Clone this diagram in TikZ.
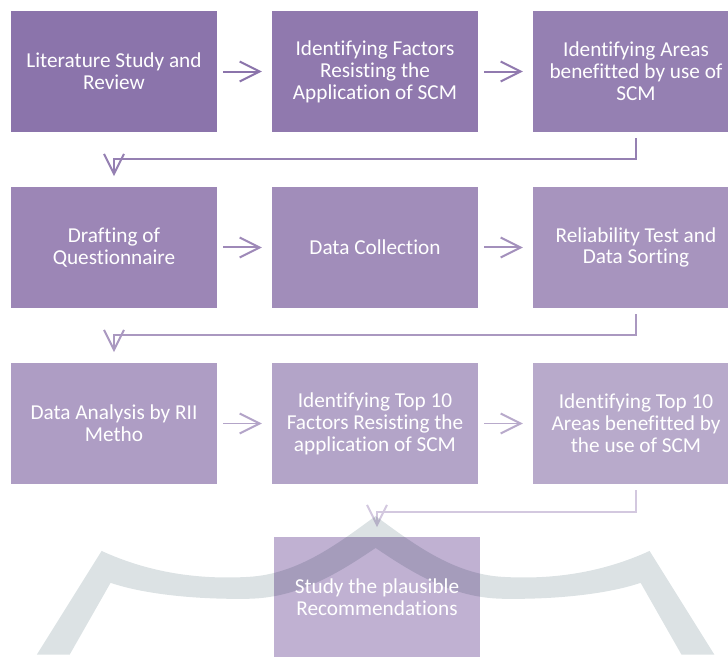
\documentclass[tikz,border=0pt]{standalone}
\usepackage{fontspec}
\setmainfont{Carlito}[Ligatures=CommonOff]
\usepackage{tikz}
\usetikzlibrary{positioning, arrows.meta}

\definecolor{litC}{HTML}{8B74AB}
\definecolor{factC}{HTML}{9079AE}
\definecolor{areaC}{HTML}{9580B2}
\definecolor{draftC}{HTML}{9C86B6}
\definecolor{collC}{HTML}{A18DBA}
\definecolor{relC}{HTML}{A794BE}
\definecolor{anaC}{HTML}{AE9DC4}
\definecolor{topfC}{HTML}{B3A4C8}
\definecolor{topaC}{HTML}{B8AACB}
\definecolor{recC}{HTML}{C0B1D2}
\definecolor{wmgrey}{HTML}{DCE2E4}

\begin{document}
\begin{tikzpicture}[
    pbox/.style={fill=#1, minimum width=5.45cm, minimum height=3.2cm, inner sep=0pt, outer sep=0pt, align=center, text=white, font=\fontsize{16}{16.5}\selectfont},
    flow/.style={draw=#1, line width=1.5pt, -{Straight Barb[length=15pt, width=15pt]}, shorten <=0.16cm, shorten >=0.27cm}
]
\useasboundingbox (0, 0) rectangle (19.262, -17.383);

% row 1
\node[pbox=litC] (lit) at (3.016, -1.892) {Literature Study and\\Review};
\node[pbox=factC] (factors) at (9.922, -1.892) {Identifying Factors\\Resisting the\\Application of SCM};
\node[pbox=areaC] (areas) at (16.828, -1.892) {Identifying Areas\\benefitted by use of\\SCM};

% row 2
\node[pbox=draftC] (draft) at (3.016, -6.548) {Drafting of\\Questionnaire};
\node[pbox=collC] (collect) at (9.922, -6.548) {Data Collection};
\node[pbox=relC] (reliab) at (16.828, -6.548) {Reliability Test and\\Data Sorting};

% row 3
\node[pbox=anaC] (analysis) at (3.016, -11.205) {Data Analysis by RII\\Metho};
\node[pbox=topfC] (topfactors) at (9.922, -11.205) {Identifying Top 10\\Factors Resisting the\\application of SCM};
\node[pbox=topaC] (topareas) at (16.828, -11.205) {Identifying Top 10\\Areas benefitted by\\the use of SCM};

% last step (text set after the watermark)
\node[pbox=recC] (recom) at (9.975, -15.809) {};

\draw[flow=litC] (lit) -- (factors);
\draw[flow=factC!80!areaC] (factors) -- (areas);
\draw[flow=areaC, shorten >=0.29cm] (areas.south) -- ++(0, -0.714) -| (draft.north);

\draw[flow=draftC!60!collC] (draft) -- (collect);
\draw[flow=collC!60!relC] (collect) -- (reliab);
\draw[flow=relC!60!anaC, shorten >=0.29cm] (reliab.south) -- ++(0, -0.714) -| (analysis.north);

\draw[flow=topfC] (analysis) -- (topfactors);
\draw[flow=topaC] (topfactors) -- (topareas);
\draw[flow=recC!70!white, shorten >=0.265cm] (topareas.south) -- ++(0, -0.74) -| (recom.north);

% watermark
\begin{scope}[x=0.75pt, y=-0.75pt, blend mode=multiply]
\fill[wmgrey] (37, 657) -- (102, 553)
    .. controls (150, 575) and (200, 582) .. (250, 579)
    .. controls (300, 576) and (340, 545) .. (377, 518)
    .. controls (414, 545) and (454, 576) .. (504, 579)
    .. controls (554, 582) and (604, 575) .. (652, 553)
    -- (717, 657) -- (684, 657) -- (643, 585)
    .. controls (614, 595) and (564, 602) .. (504, 601)
    .. controls (454, 600) and (414, 575) .. (377, 550)
    .. controls (340, 575) and (300, 600) .. (250, 601)
    .. controls (190, 602) and (140, 595) .. (111, 585)
    -- (70, 657) -- cycle;
\end{scope}
\node[pbox=none] (recomtext) at (recom) {Study the plausible\\Recommendations};
\end{tikzpicture}
\end{document}
